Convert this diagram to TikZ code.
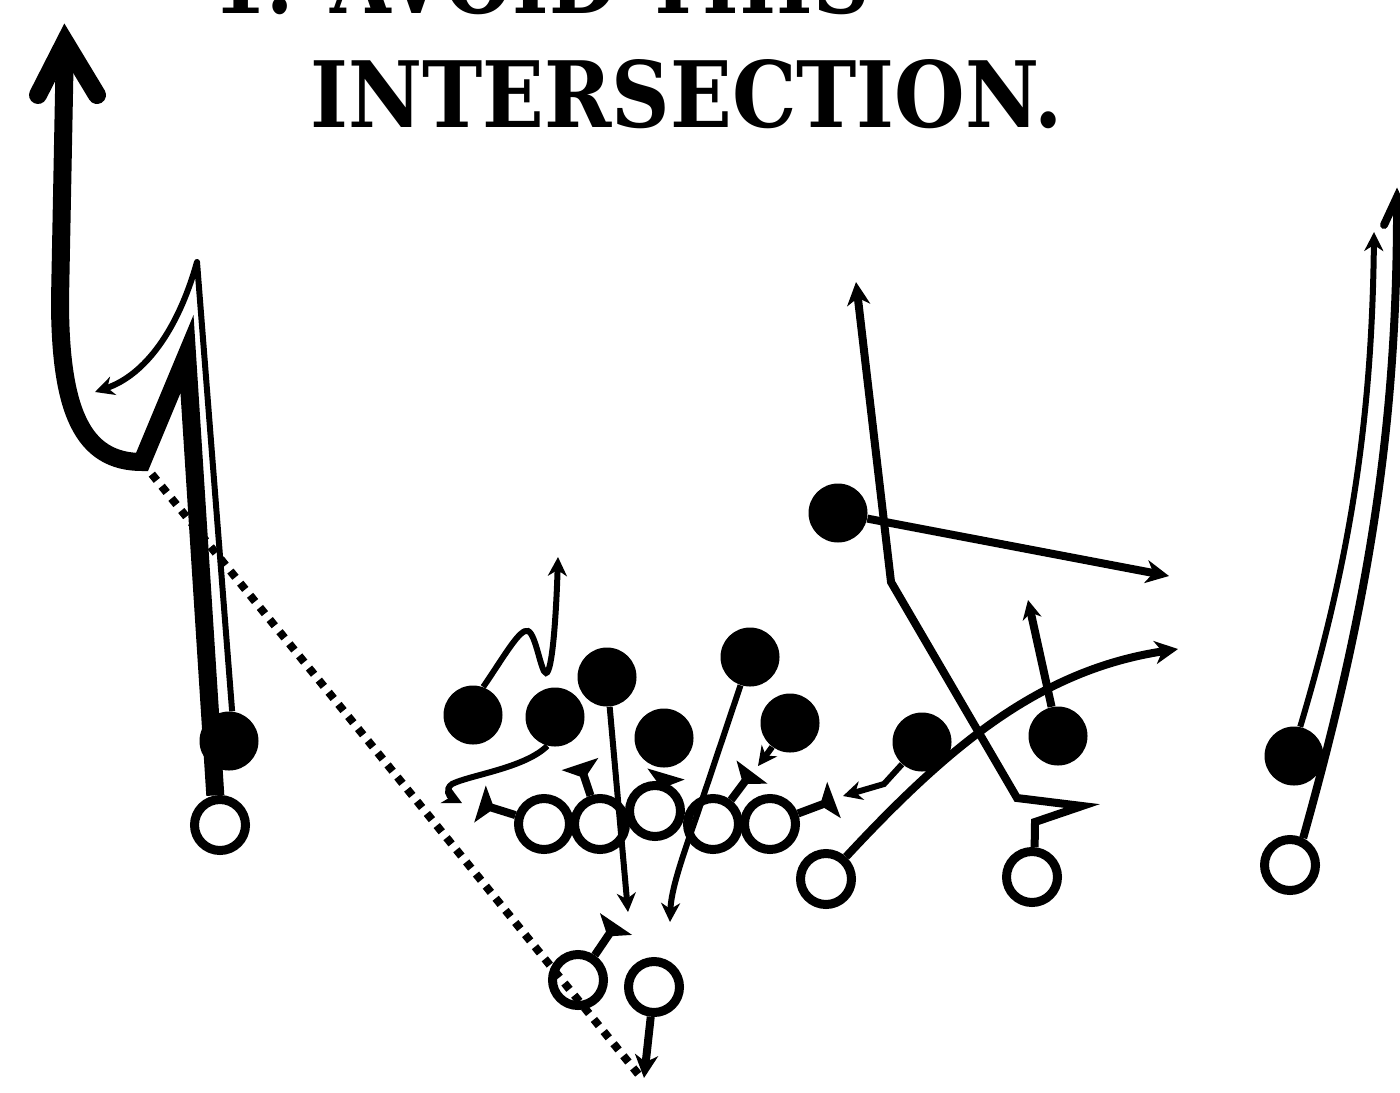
\documentclass[tikz,border=0pt]{standalone}
\usepackage{graphicx}
\usepackage{fontspec}
\newfontfamily\titlefont{DejaVu Serif}
\usetikzlibrary{arrows.meta,calc}
\begin{document}
\begin{tikzpicture}[x=0.5pt,y=-0.5pt,
  off/.style={circle,draw=black,fill=white,line width=4.5pt,minimum size=25.5pt,inner sep=0pt},
  def/.style={circle,fill=black,minimum size=29.5pt,inner sep=0pt},
  thin/.style={line width=3pt},
  med/.style={line width=4pt},
  thick/.style={line width=9pt},
  sa/.style={-{Stealth[length=9.5pt,width=9.5pt,inset=3pt]}},
  ma/.style={-{Stealth[length=11.5pt,width=11.5pt,inset=3.5pt]}},
  blk/.style={-{Triangle[reversed,length=7.5pt,width=19pt]}},
  dots/.style={line width=4pt,dash pattern=on 4pt off 3.8pt},
]
\clip (0,0) rectangle (1400,1092);
\fill[white] (0,0) rectangle (1400,1092);

% title
\node[anchor=base west,inner sep=0pt] (t1) at (212,13) {\resizebox{328.5pt}{34pt}{\titlefont\bfseries 1. AVOID THIS}};
\node[anchor=base west,inner sep=0pt] (t2) at (310,127) {\resizebox{376pt}{34pt}{\titlefont\bfseries INTERSECTION.}};

% offense
\node[off] (wrL) at (220,825) {};
\node[off] (ol1) at (544,824) {};
\node[off] (ol2) at (600,824) {};
\node[off] (ol3) at (655,811) {};
\node[off] (ol4) at (713,824) {};
\node[off] (ol5) at (770,824) {};
\node[off] (te) at (826,879) {};
\node[off] (slot) at (1032,877) {};
\node[off] (wrR) at (1290,865) {};
\node[off] (qb) at (578,980) {};
\node[off] (rb) at (654,987) {};

% defense
\node[def] (cbL) at (229,741) {};
\node[def] (d1) at (473,715) {};
\node[def] (d2) at (555,717) {};
\node[def] (d3) at (607,677) {};
\node[def] (d4) at (664,738) {};
\node[def] (d5) at (750,657) {};
\node[def] (d6) at (790,723) {};
\node[def] (d7) at (922,742) {};
\node[def] (d8) at (1058,736) {};
\node[def] (d9) at (838,513) {};
\node[def] (cbR) at (1294,756) {};

% coordinates
\coordinate (cornerL) at (142,462);
\coordinate (tipL) at (65,42);
\coordinate (tipR) at (1397,197);
\coordinate (dotEnd) at (643,1080);

% left WR route
\draw[thick,line join=miter] (wrL.99) -- (187,354) -- (cornerL) .. controls (82,462) and (60,410) .. (60,300) -- (tipL);
\draw[thick,line cap=round,line join=miter] ($(tipL)+(-27,53)$) -- (tipL) -- ($(tipL)+(32,53)$);

% left CB route
\draw[thin,sa,line join=round] (cbL.84) -- (197,262) .. controls (178,330) and (145,375) .. (95,392);

% dotted line
\draw[dots] (cornerL) -- (dotEnd);

% defender routes
\draw[thin,sa] (d1.70) .. controls (505,655) and (520,628) .. (528,631) .. controls (536,634) and (541,673) .. (546,673) .. controls (552,673) and (556,620) .. (558,557);
\draw[thin,sa] (d2.255) .. controls (525,768) and (470,775) .. (452,784) .. controls (444,790) and (450,797) .. (462,803);
\draw[thin,sa] (d3) -- (628,912);
\draw[thin,sa] (d5) -- (697,815) .. controls (682,858) and (671,890) .. (670,922);
\draw[thin,sa] (d6) -- (758,766);
\draw[thin,sa] (d7.228) -- (884,784) -- (843,796);
\draw[med,sa] (d8) -- (1028,600);
\draw[med,ma] (d9) -- (1169,576);
\draw[thin,sa] (cbR.78) .. controls (1350,560) and (1372,420) .. (1374,232);

% offense routes
\draw[med,line join=miter] (wrR.64) .. controls (1370,600) and (1398,420) .. (tipR);
\draw[med,line cap=round,line join=miter] ($(tipR)+(-13,28)$) -- (tipR) -- ($(tipR)+(13,28)$);
\draw[med,ma] (te.48) .. controls (950,745) and (1040,670) .. (1178,649);
\draw[med,ma,line join=miter] (slot.85) -- (1035,822) -- (1082,806) -- (1017,798) -- (891,582) -- (856,282);
\draw[med,ma] (rb) -- (644,1078);

% blocks
\draw[med,blk] (ol1) -- (480,804);
\draw[med,blk] (ol2) -- (580,764);
\draw[med,blk] (ol3) -- (666,774);
\draw[med,blk] (ol4) -- (752,772);
\draw[med,blk] (ol5) -- (834,800);
\draw[med,blk] (qb) -- (616,924);
\end{tikzpicture}
\end{document}
